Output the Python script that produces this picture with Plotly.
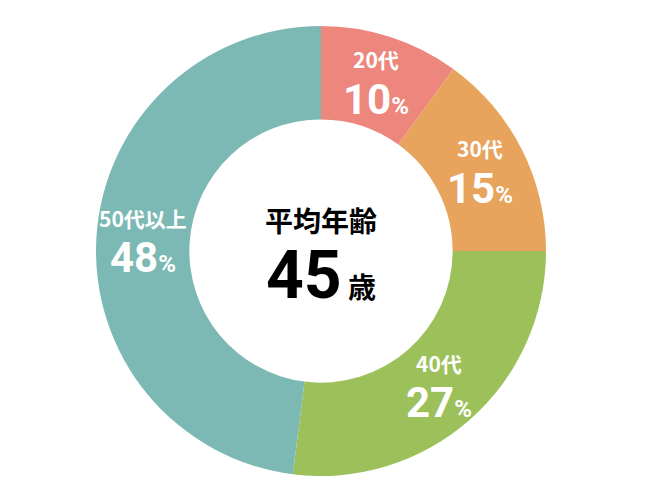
import math
import plotly.graph_objects as go

# data
categories = ["20代", "30代", "40代", "50代以上"]
shares = [10, 15, 27, 48]
colors = ["#ED877D", "#E8A35C", "#9CC05A", "#7DB9B4"]
average_age = 45

hole = 0.585
num_font = "Roboto, Noto Sans CJK JP"
jp_font = "Noto Sans CJK JP"

fig = go.Figure(go.Pie(
    labels=categories, values=shares,
    marker=dict(colors=colors, line=dict(width=0)),
    hole=hole, sort=False, direction="clockwise", rotation=0,
    textinfo="none", hoverinfo="label+percent", showlegend=False,
))

# labels sit in the middle of each ring slice
total = sum(shares)
r_mid = (1 + hole) / 2 * 0.5
start = 0
for cat, v in zip(categories, shares):
    ang = 2 * math.pi * (start + v / 2) / total
    start += v
    x = 0.5 + r_mid * math.sin(ang)
    y = 0.5 + r_mid * math.cos(ang)
    fig.add_annotation(x=x, y=y, xref="paper", yref="paper", yshift=22,
                       xanchor="center", yanchor="middle",
                       text="<b>%s</b>" % cat, showarrow=False,
                       font=dict(family=jp_font, size=21, color="white"))
    fig.add_annotation(x=x, y=y, xref="paper", yref="paper", yshift=-18,
                       xanchor="center", yanchor="middle",
                       text="<b>%d<span style='font-size:24px'>%%</span></b>" % v,
                       showarrow=False,
                       font=dict(family=num_font, size=42, color="white"))

# center text
fig.add_annotation(x=0.5, y=0.5, xref="paper", yref="paper", yshift=31,
                   xanchor="center", yanchor="middle",
                   text="<b>平均年齢</b>", showarrow=False,
                   font=dict(family=jp_font, size=28, color="black"))
fig.add_annotation(x=0.5, y=0.5, xref="paper", yref="paper", yshift=-24,
                   xanchor="center", yanchor="middle",
                   text="<b>%d<span style='font-size:28px;font-family:Noto Sans CJK JP'> 歳</span></b>" % average_age,
                   showarrow=False,
                   font=dict(family=num_font, size=66, color="black"))

fig.update_layout(
    width=650, height=500,
    margin=dict(l=88, r=112, t=18, b=32),
    paper_bgcolor="white", plot_bgcolor="white",
)
fig.write_html("out.html")
